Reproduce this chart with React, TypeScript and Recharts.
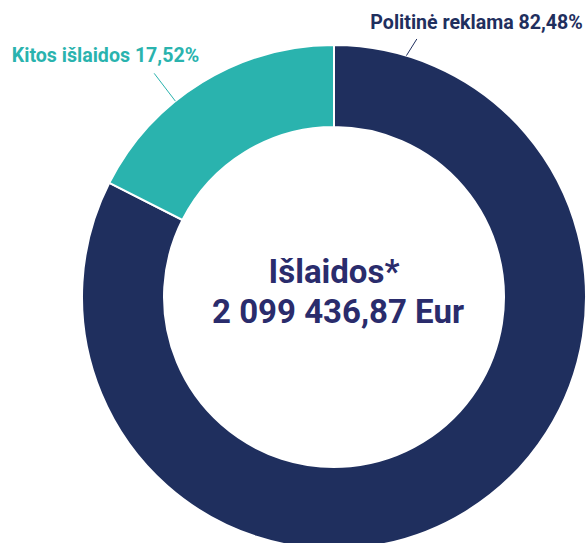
import React from "react";
import { PieChart, Pie, Cell } from "recharts";

const categories = ["Politinė reklama", "Kitos išlaidos"];
const values = [1731615.53, 367821.34];
const colors = ["#1f2f5e", "#2ab3ae"];
const centerTitle = "Išlaidos*";
const centerTotal = "2 099 436,87 Eur";

// label placement (angle on the ring, leader length, text offset)
const labelCfg = [
  { angle: 73.3, length: 19, endAngle: 72.2, dx: 166, dy: -10, anchor: "end" },
  { angle: 129, length: 35, endAngle: 128.8, dx: 45, dy: -11, anchor: "end" },
];

const data = categories.map((name, i) => ({ name, value: values[i] }));

const RAD = Math.PI / 180;

const renderLabel = (props: any) => {
  const { cx, cy, outerRadius, index, percent, name } = props;
  const cfg = labelCfg[index];
  const x1 = cx + outerRadius * Math.cos(cfg.angle * RAD);
  const y1 = cy - outerRadius * Math.sin(cfg.angle * RAD);
  const r2 = outerRadius + cfg.length;
  const x2 = cx + r2 * Math.cos(cfg.endAngle * RAD);
  const y2 = cy - r2 * Math.sin(cfg.endAngle * RAD);
  const pct = (percent * 100).toFixed(2).replace(".", ",");
  return (
    <g key={`lbl-${index}`}>
      <line x1={x1} y1={y1} x2={x2} y2={y2} stroke={colors[index]} strokeWidth={1} />
      <text
        x={x2 + cfg.dx}
        y={y2 + cfg.dy}
        textAnchor={cfg.anchor}
        fill={colors[index]}
        fontFamily="Roboto"
        fontWeight={700}
        fontSize={19.6}
      >
        {`${name} ${pct}%`}
      </text>
    </g>
  );
};

export default function App() {
  return (
    <div style={{ position: "absolute", left: 0, top: 0, width: 587, height: 543, background: "#fff" }}>
      <PieChart width={587} height={543} margin={{ top: 0, right: 0, bottom: 0, left: 0 }}>
        <Pie
          data={data}
          dataKey="value"
          nameKey="name"
          cx={334}
          cy={297}
          innerRadius={170}
          outerRadius={252}
          startAngle={90}
          endAngle={-270}
          stroke="#ffffff"
          strokeWidth={2}
          label={renderLabel}
          labelLine={false}
          isAnimationActive={false}
        >
          {data.map((d, i) => (
            <Cell key={d.name} fill={colors[i]} />
          ))}
        </Pie>
        <text
          x={334}
          y={283}
          textAnchor="middle"
          fill="#2a2c6c"
          fontFamily="Roboto"
          fontWeight={700}
          fontSize={33}
        >
          {centerTitle}
        </text>
        <text
          x={338}
          y={323}
          textAnchor="middle"
          fill="#2a2c6c"
          fontFamily="Roboto"
          fontWeight={700}
          fontSize={33}
        >
          {centerTotal}
        </text>
      </PieChart>
    </div>
  );
}
